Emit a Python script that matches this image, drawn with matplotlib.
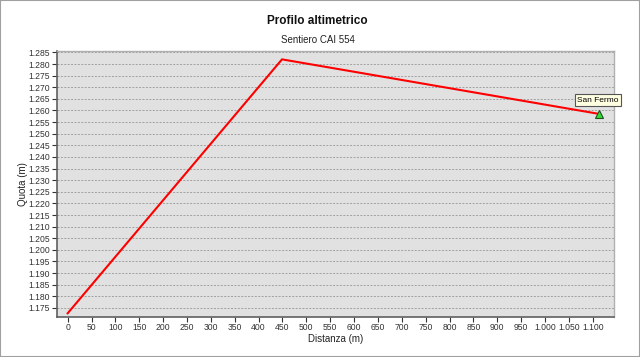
import matplotlib
matplotlib.use("Agg")
import matplotlib.pyplot as plt
from matplotlib.ticker import FuncFormatter, MultipleLocator
from matplotlib.patches import Rectangle

# Data (distance in m, elevation in m)
distanza = [0, 449, 1114]
quota = [1172.7, 1282.0, 1258.5]
end_label = "San Fermo"
title = "Profilo altimetrico"
subtitle = "Sentiero CAI 554"
xlabel = "Distanza (m)"
ylabel = "Quota (m)"

def it_fmt(v, pos=None):
    s = f"{int(round(v)):,}".replace(",", ".")
    return s

plt.rcParams['font.family'] = ['Liberation Sans', 'DejaVu Sans']
fig = plt.figure(figsize=(6.4, 3.57), dpi=100)
fig.patch.set_facecolor("white")
fig.add_artist(Rectangle((0, 0), 1, 1, transform=fig.transFigure, fill=False,
                         edgecolor="#a0a0a0", linewidth=1.5))

W, H = 640, 357
ax = fig.add_axes([57 / W, 1 - 317 / H, (614 - 57) / W, (317 - 51) / H])
ax.set_facecolor("#e1e1e1")
ax.plot(distanza, quota, color="#ff0000", linewidth=1.5, zorder=3)
ax.plot([distanza[-1]], [quota[-1]], marker="^", markersize=6,
        markerfacecolor="#33dd33", markeredgecolor="#205020", markeredgewidth=0.8,
        linestyle="none", zorder=4)
ax.annotate(end_label, xy=(distanza[-1], quota[-1]), xytext=(-1, 10),
            textcoords="offset points", ha="center", va="center", fontsize=6,
            bbox=dict(boxstyle="square,pad=0.3", facecolor="#ffffe1",
                      edgecolor="#555555", linewidth=0.8), zorder=5)

ax.set_xlim(-22.4, 1144.6)
ax.set_ylim(1171.1, 1285.6)
ax.xaxis.set_major_locator(MultipleLocator(50))
ax.yaxis.set_major_locator(MultipleLocator(5))
ax.xaxis.set_major_formatter(FuncFormatter(it_fmt))
ax.yaxis.set_major_formatter(FuncFormatter(it_fmt))
ax.tick_params(axis="both", labelsize=6.2, colors="#333333", length=3.5, width=0.8, pad=1)
ax.tick_params(axis="y", pad=1.5)
ax.yaxis.grid(True, linestyle=(0, (2, 1.5)), color="#a0a0a0", linewidth=0.7)
ax.xaxis.grid(False)
ax.set_axisbelow(True)
for s in ["left", "bottom"]:
    ax.spines[s].set_color("#606060")
    ax.spines[s].set_linewidth(1.2)
for s in ["top", "right"]:
    ax.spines[s].set_color("#b0b0b0")
    ax.spines[s].set_linewidth(1.0)

ax.set_xlabel(xlabel, fontsize=7, color="#222222", labelpad=1)
ax.set_ylabel(ylabel, fontsize=7, color="#222222")
ax.yaxis.set_label_coords((28 - 57) / (614 - 57), 0.5)

fig.text(0.496, 1 - 21 / H, title, ha="center", va="center", fontsize=8.5,
         fontweight="bold", color="#111111")
fig.text(0.496, 1 - 40 / H, subtitle, ha="center", va="center", fontsize=7,
         color="#222222")

fig.savefig("out.png", dpi=100, facecolor="white")
